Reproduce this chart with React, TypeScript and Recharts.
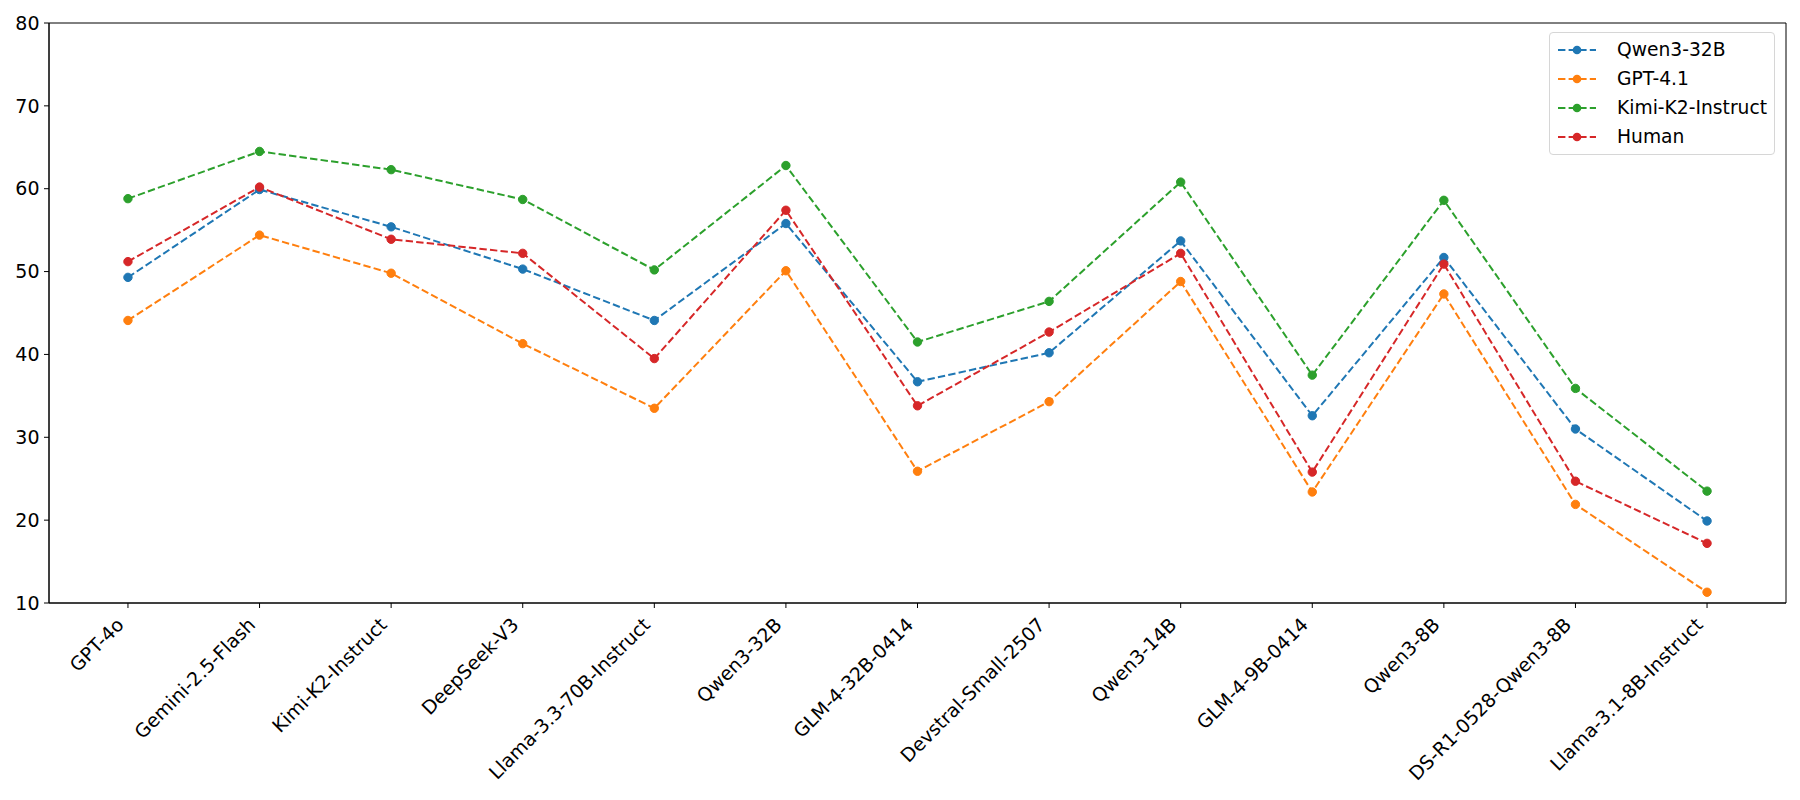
import React from "react";
import {
  LineChart,
  Line,
  XAxis,
  YAxis,
  Legend,
  ReferenceArea,
} from "recharts";

const categories = [
  "GPT-4o",
  "Gemini-2.5-Flash",
  "Kimi-K2-Instruct",
  "DeepSeek-V3",
  "Llama-3.3-70B-Instruct",
  "Qwen3-32B",
  "GLM-4-32B-0414",
  "Devstral-Small-2507",
  "Qwen3-14B",
  "GLM-4-9B-0414",
  "Qwen3-8B",
  "DS-R1-0528-Qwen3-8B",
  "Llama-3.1-8B-Instruct",
];

const qwen32 = [49.3, 59.9, 55.4, 50.3, 44.1, 55.8, 36.7, 40.2, 53.7, 32.6, 51.7, 31.0, 19.9];
const gpt41 = [44.1, 54.4, 49.8, 41.3, 33.5, 50.1, 25.9, 34.3, 48.8, 23.4, 47.3, 21.9, 11.3];
const kimi = [58.8, 64.5, 62.3, 58.7, 50.2, 62.8, 41.5, 46.4, 60.8, 37.5, 58.6, 35.9, 23.5];
const human = [51.2, 60.2, 53.9, 52.2, 39.5, 57.4, 33.8, 42.7, 52.2, 25.8, 50.9, 24.7, 17.2];

const yTicks = [10, 20, 30, 40, 50, 60, 70, 80];
const xTicks = categories.map((_, i) => i);

const series = [
  { key: "qwen", name: "Qwen3-32B", color: "#1f77b4" },
  { key: "gpt", name: "GPT-4.1", color: "#ff7f0e" },
  { key: "kimi", name: "Kimi-K2-Instruct", color: "#2ca02c" },
  { key: "human", name: "Human", color: "#d62728" },
];

const data = categories.map((name, i) => ({
  i,
  name,
  qwen: qwen32[i],
  gpt: gpt41[i],
  kimi: kimi[i],
  human: human[i],
}));

const FONT = "DejaVu Sans, sans-serif";
const FS = 19;

const XTick = (props: any) => {
  const { x, y, payload } = props;
  const tx = x - 3;
  const ty = y + 18;
  return (
    <text
      x={tx}
      y={ty}
      transform={`rotate(-45 ${tx} ${ty})`}
      textAnchor="end"
      fontSize={FS}
      fontFamily={FONT}
      fill="#000"
    >
      {categories[payload.value]}
    </text>
  );
};

const LegendBox = () => (
  <div
    style={{
      border: "1px solid #d6d6d6",
      borderRadius: 4,
      background: "rgba(255,255,255,0.8)",
      padding: "2px 0 3px 0",
      width: 224,
      fontFamily: FONT,
      fontSize: 18.7,
      color: "#000",
    }}
  >
    {series.map((s) => (
      <div
        key={s.key}
        style={{ display: "flex", alignItems: "center", height: 29 }}
      >
        <svg width={40} height={12} style={{ marginLeft: 7, marginRight: 20 }}>
          <line
            x1={1}
            y1={6}
            x2={39}
            y2={6}
            stroke={s.color}
            strokeWidth={2}
            strokeDasharray="7.4 3.2"
          />
          <circle cx={20} cy={6} r={4.3} fill={s.color} />
        </svg>
        <span>{s.name}</span>
      </div>
    ))}
  </div>
);

export default function App() {
  return (
    <div
      style={{
        position: "absolute",
        left: 0,
        top: 0,
        width: 1800,
        height: 800,
        background: "#fff",
      }}
    >
      <LineChart
        width={1800}
        height={800}
        data={data}
        margin={{ top: 23, right: 14, bottom: 7, left: 0 }}
      >
        <XAxis
          dataKey="i"
          type="number"
          domain={[-0.6, 12.6]}
          ticks={xTicks}
          interval={0}
          height={190}
          tickSize={5}
          tickMargin={0}
          tickLine={{ stroke: "#000", strokeWidth: 1 }}
          axisLine={{ stroke: "#000", strokeWidth: 1 }}
          tick={<XTick />}
        />
        <YAxis
          type="number"
          domain={[10, 80]}
          ticks={yTicks}
          width={49}
          tickSize={5}
          tickMargin={4.5}
          tickLine={{ stroke: "#000", strokeWidth: 1 }}
          axisLine={{ stroke: "#000", strokeWidth: 1 }}
          tick={{ fill: "#000", fontSize: FS, fontFamily: FONT }}
        />
        <ReferenceArea
          x1={-0.6}
          x2={12.6}
          y1={10}
          y2={80}
          fill="none"
          fillOpacity={0}
          stroke="#000"
          strokeWidth={1}
          ifOverflow="visible"
        />
        {series.map((s) => (
          <Line
            key={s.key}
            type="linear"
            dataKey={s.key}
            name={s.name}
            stroke={s.color}
            strokeWidth={2}
            strokeDasharray="7.4 3.2"
            dot={{ r: 4.2, fill: s.color, stroke: s.color, strokeWidth: 1, strokeDasharray: "" }}
            activeDot={false}
            isAnimationActive={false}
          />
        ))}
        <Legend
          layout="vertical"
          align="center"
          verticalAlign="middle"
          wrapperStyle={{ top: 32, left: 1549, width: 226, height: "auto" }}
          content={<LegendBox />}
        />
      </LineChart>
    </div>
  );
}
